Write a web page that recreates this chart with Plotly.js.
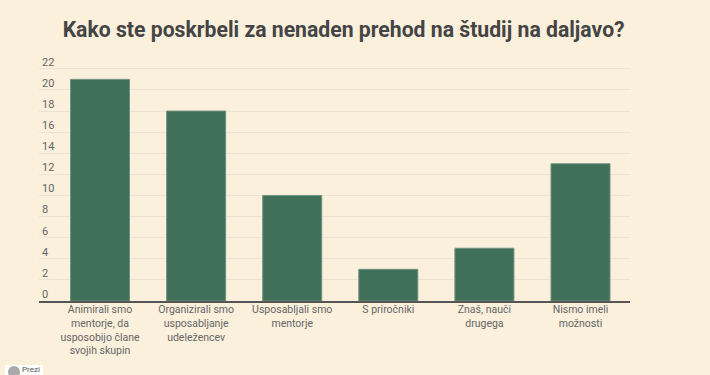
<!DOCTYPE html>
<html><head><meta charset="utf-8">
<script src="https://cdn.plot.ly/plotly-3.0.1.min.js"></script>
<style>html,body{margin:0;padding:0;background:#faf0dc;overflow:hidden}</style>
</head><body><div id="c" style="width:710px;height:375px"></div>
<script>
const categories=["Animirali smo<br>mentorje, da<br>usposobijo člane<br>svojih skupin","Organizirali smo<br>usposabljanje<br>udeležencev","Usposabljali smo<br>mentorje","S priročniki","Znaš, nauči<br>drugega","Nismo imeli<br>možnosti"];
const values=[21,18,10,3,5,13];
const yTicks=[0,2,4,6,8,10,12,14,16,18,20,22];
const titleText="Kako ste poskrbeli za nenaden prehod na študij na daljavo?";
const bg="#faf0dc";
const px=v=>(v-39)/591, py=v=>(301-v)/248.35;
Plotly.newPlot("c",[{type:"bar",x:[0,1,2,3,4,5],y:values,width:0.614,
 marker:{color:"#41705a",line:{color:"#6f9280",width:1}},hoverinfo:"x+y"}],{
 width:710,height:375,paper_bgcolor:bg,plot_bgcolor:bg,showlegend:false,
 font:{family:"Roboto, sans-serif",color:"#666666",size:11},
 margin:{l:39,r:80,t:52.65,b:74},
 title:{text:titleText,font:{family:"Roboto, sans-serif",size:21.2,weight:700,color:"#444444"},x:0.484,xanchor:"center",y:0.92,yanchor:"middle"},
 xaxis:{type:"linear",range:[-0.635,5.515],tickmode:"array",tickvals:[0,1,2,3,4,5],ticktext:categories,ticks:"",showgrid:false,zeroline:false,showline:true,linecolor:"#555555",linewidth:1.5,tickfont:{size:10.5,color:"#666666"},ticklabelstandoff:-2},
 yaxis:{range:[0,23.5],tickmode:"array",tickvals:yTicks,ticks:"",ticklabelposition:"inside",ticklabelshift:-7,gridcolor:"#ece4d2",gridwidth:1,zeroline:false,showline:false,tickfont:{size:11,color:"#666666"},automargin:false},
 shapes:[
  {type:"rect",xref:"paper",yref:"paper",x0:px(5),x1:px(43),y0:py(365),y1:py(376),fillcolor:"#ffffff",line:{width:0},layer:"above"},
  {type:"circle",xref:"paper",yref:"paper",x0:px(8),x1:px(20),y0:py(366),y1:py(378),fillcolor:"#aaaaaa",line:{width:0},layer:"above"}
 ],
 annotations:[{xref:"paper",yref:"paper",x:px(21),y:py(370),xanchor:"left",yanchor:"middle",text:"Prezi",showarrow:false,font:{size:8,color:"#555555"},borderpad:0,height:9}]
},{displayModeBar:false});
</script></body></html>
